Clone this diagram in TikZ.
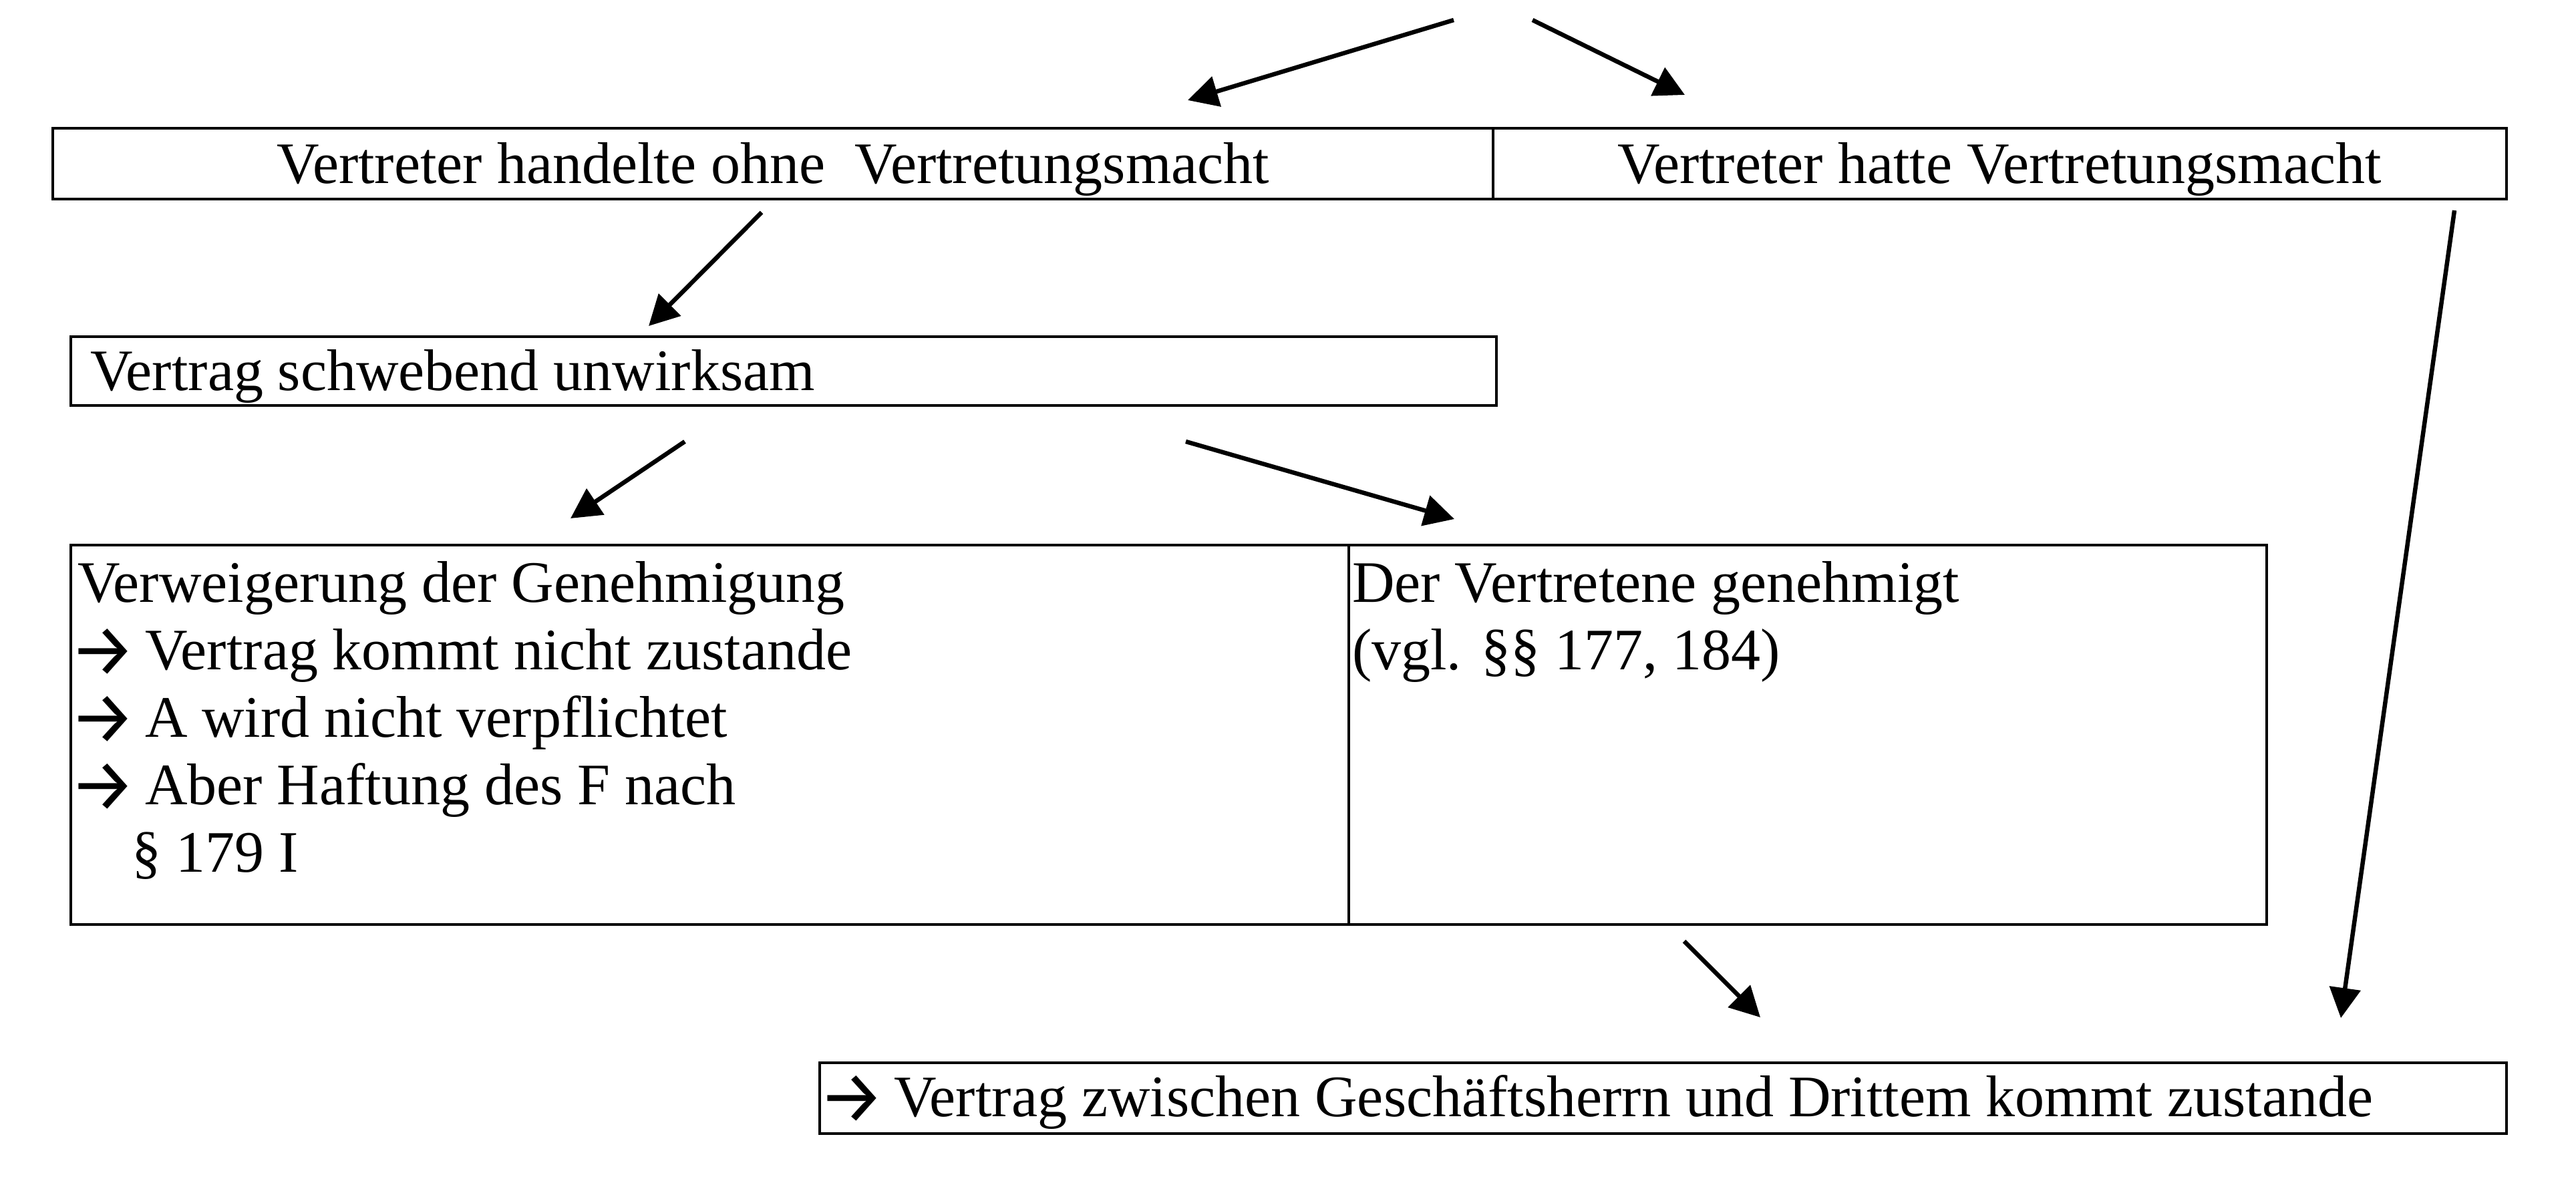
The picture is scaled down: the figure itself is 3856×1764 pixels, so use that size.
\documentclass[tikz,border=0pt]{standalone}
\usepackage{fontspec}
\setmainfont{Liberation Serif}
\newfontfamily\arrowfont{Fira Sans}
\usetikzlibrary{arrows.meta}
\newcommand{\pfeil}{\hspace*{-12pt}\raisebox{-9pt}{\arrowfont\scalebox{1.25}{→}}\hspace{-8pt}}
\begin{document}
\begin{tikzpicture}[x=1pt,y=-1pt,
  cell/.style={draw, line width=3.5pt, rectangle, inner sep=0pt, outer sep=0pt, anchor=north west},
  txt/.style={inner sep=0pt, outer sep=0pt, font=\fontsize{88}{101}\selectfont},
  conn/.style={line width=6.5pt, -{Triangle[length=45pt,width=46pt]}}]
\useasboundingbox (0,0) rectangle (3856,1764);
\fill[white] (0,0) rectangle (3856,1764);

% boxes
\node[cell, minimum width=2156pt, minimum height=106pt] (ohne) at (79,192) {};
\node[cell, minimum width=1517pt, minimum height=106pt] (hatte) at (2235,192) {};
\node[cell, minimum width=2134pt, minimum height=103pt] (schwebend) at (106,504) {};
\node[cell, minimum width=1913pt, minimum height=568pt] (verweig) at (106,816) {};
\node[cell, minimum width=1374pt, minimum height=568pt] (genehm) at (2019,816) {};
\node[cell, minimum width=2525pt, minimum height=106pt] (zustande) at (1227,1591) {};

% texts
\node[txt, anchor=base] (t1) at (1157,274) {Vertreter handelte ohne~~Vertretungsmacht};
\node[txt, anchor=base] (t2) at (2993,274) {Vertreter hatte Vertretungsmacht};
\node[txt, anchor=base west] (t3) at (135,584) {Vertrag schwebend unwirksam};
\node[txt, anchor=base west] (l1) at (116,901) {Verweigerung der Genehmigung};
\node[txt, anchor=base west] (l2) at (116,1002) {\pfeil{} Vertrag kommt nicht zustande};
\node[txt, anchor=base west] (l3) at (116,1103) {\pfeil{} A wird nicht verpflichtet};
\node[txt, anchor=base west] (l4) at (116,1204) {\pfeil{} Aber Haftung des F nach};
\node[txt, anchor=base west] (l5) at (197,1305) {§ 179 I};
\node[txt, anchor=base west] (r1) at (2024,901) {Der Vertretene genehmigt};
\node[txt, anchor=base west] (r2) at (2024,1002) {(vgl. §§ 177, 184)};
\node[txt, anchor=base west] (t4) at (1237,1671) {\pfeil{} Vertrag zwischen Geschäftsherrn und Drittem kommt zustande};

% connector end points
\coordinate (a1s) at (2176,30);  \coordinate (a1e) at (1778,150);
\coordinate (a2s) at (2294,30);  \coordinate (a2e) at (2522,142);
\coordinate (a3s) at (1140,318); \coordinate (a3e) at (971,488);
\coordinate (a4s) at (1025,661); \coordinate (a4e) at (854,776);
\coordinate (a5s) at (1775,661); \coordinate (a5e) at (2177,777);
\coordinate (a6s) at (2521,1409); \coordinate (a6e) at (2635,1523);
\coordinate (a7s) at (3674,315); \coordinate (a7e) at (3504,1524);

\draw[conn] (a1s) -- (a1e);
\draw[conn] (a2s) -- (a2e);
\draw[conn] (a3s) -- (a3e);
\draw[conn] (a4s) -- (a4e);
\draw[conn] (a5s) -- (a5e);
\draw[conn] (a6s) -- (a6e);
\draw[conn] (a7s) -- (a7e);
\end{tikzpicture}
\end{document}
